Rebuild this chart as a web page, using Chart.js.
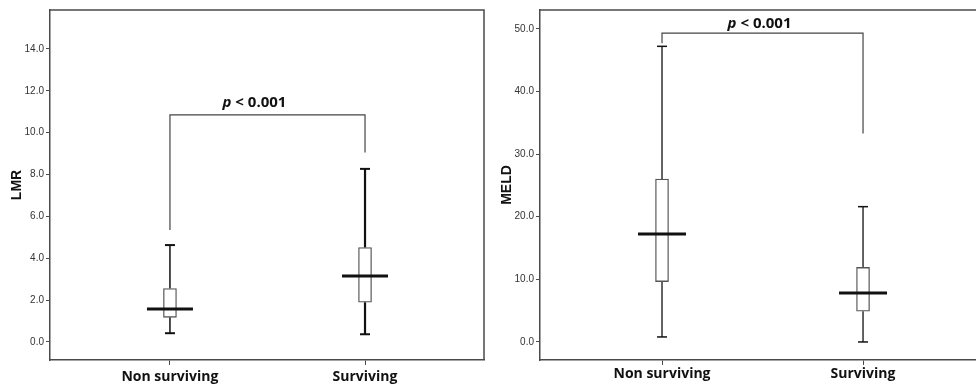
<!DOCTYPE html>
<html>
<head>
<meta charset="utf-8">
<script src="https://cdn.jsdelivr.net/npm/chart.js@4"></script>
<style>
body { margin: 0; background: #fff; }
#wrap { position: relative; width: 976px; height: 385px; overflow: hidden; }
canvas { position: absolute; top: 0; }
</style>
</head>
<body>
<div id="wrap">
    <canvas id="lmrChart" width="490" height="385" style="left:0"></canvas>
    <canvas id="meldChart" width="486" height="385" style="left:490px"></canvas>
</div>
<script>
const groups = ['Non surviving', 'Surviving'];

// [min, q1, median, q3, max]
const lmrNonSurviving = [0.42, 1.18, 1.58, 2.55, 4.63];
const lmrSurviving = [0.37, 1.9, 3.15, 4.51, 8.27];
const meldNonSurviving = [0.8, 9.64, 17.25, 26.0, 47.2];
const meldSurviving = [0.0, 4.9, 7.8, 11.9, 21.6];

const lmrTicks = [0, 2, 4, 6, 8, 10, 12, 14];
const meldTicks = [0, 10, 20, 30, 40, 50];

// significance bracket: [left foot, top, right foot]
const lmrBracket = [5.35, 10.85, 9.05];
const meldBracket = [47.7, 49.3, 33.3];
const pLabel = 'p < 0.001';

const frameColor = '#4a4a4a';
const darkLine = '#111';

// closes the frame on top (and right) and writes the p-value over the bracket
const framePlugin = {
    id: 'frame',
    afterDraw(chart, args, opts) {
        const { ctx, chartArea: a, scales } = chart;
        ctx.save();
        ctx.strokeStyle = frameColor;
        ctx.lineWidth = 1.5;
        ctx.beginPath();
        ctx.moveTo(a.left, a.top);
        ctx.lineTo(a.right, a.top);
        if (opts.right) ctx.lineTo(a.right, a.bottom);
        ctx.stroke();

        const x = scales.x.getPixelForValue(1.5) + opts.dx;
        const y = scales.y.getPixelForValue(opts.bracket[1]) - opts.dy;
        const first = pLabel.charAt(0);
        const rest = pLabel.slice(1);
        ctx.fillStyle = '#111';
        ctx.textBaseline = 'alphabetic';
        ctx.font = 'italic bold 15px "Open Sans"';
        const w1 = ctx.measureText(first).width;
        ctx.font = 'bold 15px "Open Sans"';
        const w2 = ctx.measureText(rest).width;
        let start = x - (w1 + w2) / 2;
        ctx.font = 'italic bold 15px "Open Sans"';
        ctx.fillText(first, start, y);
        ctx.font = 'bold 15px "Open Sans"';
        ctx.fillText(rest, start + w1, y);
        ctx.restore();
    }
};

function createBoxChart(canvasId, title, stats, ticks, yRange, xRange, bracket, style) {
    const datasets = [];

    datasets.push({
        type: 'scatter',
        data: stats.map((s, i) => ({ x: i + 1, y: s[2] })),
        pointStyle: 'line',
        pointRadius: style.medianHalf,
        pointBorderWidth: 3,
        pointBorderColor: darkLine
    });

    datasets.push({
        type: 'scatter',
        data: stats.flatMap((s, i) => [{ x: i + 1, y: s[0] }, { x: i + 1, y: s[4] }]),
        pointStyle: 'line',
        pointRadius: 5,
        pointBorderWidth: style.capWidth,
        pointBorderColor: darkLine
    });

    datasets.push({
        type: 'bar',
        data: stats.map((s, i) => ({ x: i + 1, y: [s[1], s[3]] })),
        barThickness: 13,
        backgroundColor: '#fff',
        borderColor: '#555',
        borderWidth: 1.3,
        borderSkipped: false
    });

    stats.forEach((s, i) => {
        [[s[0], s[1]], [s[3], s[4]]].forEach(seg => {
            datasets.push({
                type: 'line',
                data: [{ x: i + 1, y: seg[0] }, { x: i + 1, y: seg[1] }],
                borderColor: darkLine,
                borderWidth: style.whisker[i],
                pointRadius: 0
            });
        });
    });

    datasets.push({
        type: 'line',
        data: [
            { x: 1, y: bracket[0] },
            { x: 1, y: bracket[1] },
            { x: 2, y: bracket[1] },
            { x: 2, y: bracket[2] }
        ],
        borderColor: '#444',
        borderWidth: 1.2,
        pointRadius: 0
    });

    return new Chart(document.getElementById(canvasId), {
        type: 'bar',
        data: { datasets: datasets },
        options: {
            responsive: false,
            animation: false,
            layout: { autoPadding: false, padding: { top: 10, right: style.padRight, left: 0, bottom: 0 } },
            plugins: {
                legend: { display: false },
                tooltip: { enabled: false },
                frame: { right: style.frameRight, bracket: bracket, dx: style.textDx, dy: style.textDy }
            },
            scales: {
                x: {
                    type: 'linear',
                    offset: false,
                    min: xRange[0],
                    max: xRange[1],
                    afterBuildTicks: (scale) => {
                        scale.ticks = groups.map((g, i) => ({ value: i + 1 }));
                    },
                    afterFit: (scale) => { scale.height = 25; },
                    ticks: {
                        callback: (v) => groups[v - 1],
                        color: '#111',
                        font: { family: 'Open Sans', size: 14, weight: 'bold' },
                        padding: style.labelPad,
                        maxRotation: 0
                    },
                    grid: { offset: false, drawOnChartArea: false, drawTicks: true, tickLength: 5, color: frameColor },
                    border: { color: frameColor, width: 1.5 }
                },
                y: {
                    type: 'linear',
                    min: yRange[0],
                    max: yRange[1],
                    afterBuildTicks: (scale) => {
                        scale.ticks = ticks.map(v => ({ value: v }));
                    },
                    afterFit: (scale) => { scale.width = 50; },
                    ticks: {
                        callback: (v) => v.toFixed(1),
                        color: '#333',
                        font: { family: 'Liberation Sans', size: 10 },
                        padding: 2
                    },
                    grid: { drawOnChartArea: false, drawTicks: true, tickLength: 4, color: frameColor },
                    border: { color: frameColor, width: 1.5 },
                    title: {
                        display: true,
                        text: title,
                        color: '#111',
                        font: { family: 'Liberation Sans', size: 14, weight: 'bold' },
                        padding: { top: 9, bottom: 0 }
                    }
                }
            }
        },
        plugins: [framePlugin]
    });
}

createBoxChart('lmrChart', 'LMR', [lmrNonSurviving, lmrSurviving], lmrTicks,
    [-0.86, 15.86], [0.385, 2.61], lmrBracket,
    { medianHalf: 23, capWidth: 2, whisker: [1.5, 2.2], padRight: 6, frameRight: true, textDx: -13, textDy: 8, labelPad: 4 });

createBoxChart('meldChart', 'MELD', [meldNonSurviving, meldSurviving], meldTicks,
    [-2.88, 53.0], [0.393, 2.562], meldBracket,
    { medianHalf: 24, capWidth: 1.5, whisker: [1.3, 1.3], padRight: 0, frameRight: false, textDx: -3, textDy: 5, labelPad: 1 });
</script>
</body>
</html>
